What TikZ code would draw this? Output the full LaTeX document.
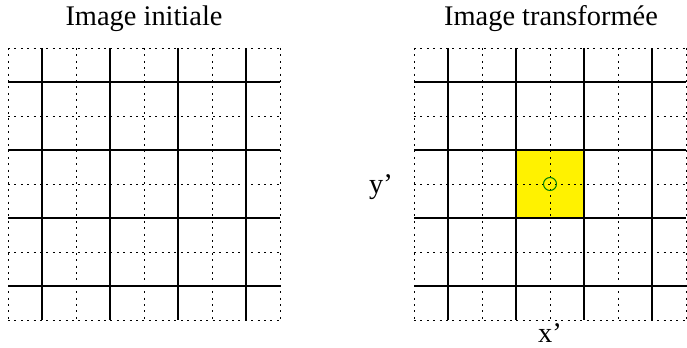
\documentclass[tikz,border=0pt]{standalone}
\usepackage{fontspec}
\setmainfont{Liberation Serif}
\begin{document}
\begin{tikzpicture}[x=0.5pt,y=-0.5pt,
  thin grid/.style={line width=0.5pt, dash pattern=on 1pt off 2.2pt},
  thick grid/.style={line width=1.1pt},
  label text/.style={font=\fontsize{14.2pt}{17pt}\selectfont, inner sep=0pt}]
\useasboundingbox (0,0) rectangle (687,348);
% yellow cell
\fill[yellow] (516,150) rectangle (584,218);
% left grid
\foreach \i in {0,2,4,6,8} {
  \draw[thin grid] (8+34*\i,48) -- (8+34*\i,320);
  \draw[thin grid] (8,48+34*\i) -- (280,48+34*\i);
}
\foreach \i in {1,3,5,7} {
  \draw[thick grid] (8+34*\i,48) -- (8+34*\i,320);
  \draw[thick grid] (8,48+34*\i) -- (280,48+34*\i);
}
% right grid
\foreach \i in {0,2,4,6,8} {
  \draw[thin grid] (414+34*\i,48) -- (414+34*\i,320);
  \draw[thin grid] (414,48+34*\i) -- (686,48+34*\i);
}
\foreach \i in {1,3,5,7} {
  \draw[thick grid] (414+34*\i,48) -- (414+34*\i,320);
  \draw[thick grid] (414,48+34*\i) -- (686,48+34*\i);
}
% circle
\draw[green!50!black, line width=0.5pt] (550,184) circle[radius=6.5];
% labels
\node[label text] (t1) at (144,19) {Image initiale};
\node[label text] (t2) at (551,19) {Image transformée};
\node[label text] (yl) at (381,187) {y’};
\node[label text] (xl) at (550,333) {x’};
\end{tikzpicture}
\end{document}
